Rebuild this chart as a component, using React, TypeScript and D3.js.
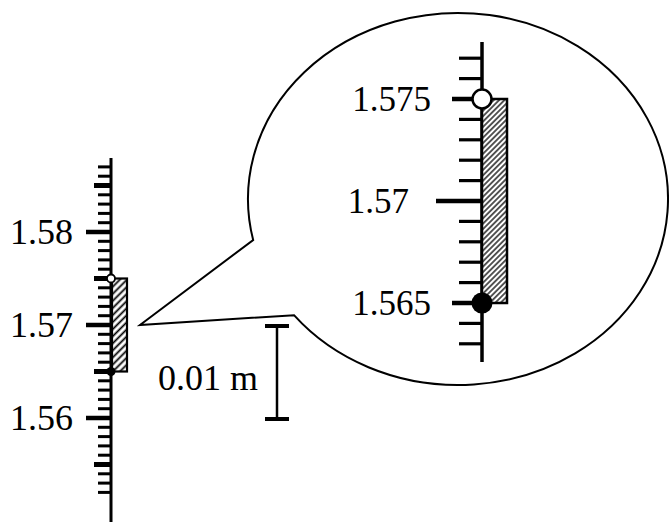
import * as d3 from "d3";

// measured interval: lower end included (filled dot), upper end excluded (open dot)
const intervalLow = 1.565;
const intervalHigh = 1.575;

// main ruler
const mainLabels = [1.56, 1.57, 1.58];
const mainTickRange = [1552, 1587]; // in mm, every 1 mm
// magnified ruler
const zoomLabels = [1.565, 1.57, 1.575];
const zoomTickRange = [1563, 1577];

const scaleBarValue = 0.01;
const scaleBarLabel = "0.01 m";

const W = 669;
const H = 522;
const FONT = "'Liberation Serif', 'Times New Roman', serif";

function Hatch({ id, spacing, sw }: { id: string; spacing: number; sw: number }) {
  return (
    <pattern
      id={id}
      patternUnits="userSpaceOnUse"
      width={spacing}
      height={spacing}
      patternTransform="rotate(45)"
    >
      <rect width={spacing} height={spacing} fill="#fff" />
      <line
        x1={spacing / 2}
        y1={-1}
        x2={spacing / 2}
        y2={spacing + 1}
        stroke="#000"
        strokeWidth={sw}
      />
    </pattern>
  );
}

export default function App() {
  // scales
  const yMain = d3.scaleLinear().domain([1.56, 1.58]).range([418, 232]);
  const yZoom = d3.scaleLinear().domain([1.565, 1.575]).range([303, 99]);
  const xMain = 111;
  const xZoom = 482;

  const mainTicks = d3.range(mainTickRange[0], mainTickRange[1] + 1);
  const zoomTicks = d3.range(zoomTickRange[0], zoomTickRange[1] + 1);

  // speech bubble geometry (ellipse + tail)
  const cx = 458, cy = 199, rx = 210, ry = 186;
  const ayA = 240;
  const axA = cx - rx * Math.sqrt(1 - ((ayA - cy) / ry) ** 2);
  const bxB = 294;
  const byB = cy + ry * Math.sqrt(1 - ((bxB - cx) / rx) ** 2);
  const tip = [140, 325];
  const bubble = `M${axA},${ayA} A${rx},${ry} 0 1 1 ${bxB},${byB} L${tip[0]},${tip[1]} Z`;

  // scale bar
  const barLen = yMain(1.56) - yMain(1.56 + scaleBarValue);
  const barX = 277;
  const barTop = 326;

  return (
    <svg
      width={W}
      height={H}
      style={{ position: "absolute", left: 0, top: 0, background: "#fff" }}
      fontFamily={FONT}
    >
      <defs>
        <Hatch id="hatchMain" spacing={5} sw={1.8} />
        <Hatch id="hatchZoom" spacing={3.8} sw={1.3} />
      </defs>

      {/* main ruler */}
      <line x1={xMain} x2={xMain} y1={158} y2={H} stroke="#000" strokeWidth={3} />
      {mainTicks.map((k) => {
        const y = yMain(k / 1000);
        const major = k % 10 === 0;
        const mid = k % 5 === 0;
        const len = major ? 25 : mid ? 17 : 13;
        const sw = major ? 4.5 : mid ? 5 : 3;
        return (
          <line key={k} x1={xMain - len} x2={xMain} y1={y} y2={y} stroke="#000" strokeWidth={sw} />
        );
      })}
      {mainLabels.map((v) => (
        <text key={v} x={73} y={yMain(v) + 12} textAnchor="end" fontSize={36}>
          {d3.format(".2f")(v)}
        </text>
      ))}
      <rect
        x={xMain + 1}
        y={yMain(intervalHigh)}
        width={15}
        height={yMain(intervalLow) - yMain(intervalHigh)}
        fill="url(#hatchMain)"
        stroke="#000"
        strokeWidth={2.2}
      />
      <circle cx={xMain} cy={yMain(intervalHigh)} r={4} fill="#fff" stroke="#000" strokeWidth={1.8} />
      <circle cx={xMain} cy={yMain(intervalLow)} r={4.5} fill="#000" />

      {/* speech bubble */}
      <path d={bubble} fill="#fff" stroke="#000" strokeWidth={2} strokeLinejoin="miter" />

      {/* magnified ruler */}
      <line x1={xZoom} x2={xZoom} y1={42} y2={362} stroke="#000" strokeWidth={3.5} />
      {zoomTicks.map((k) => {
        const y = yZoom(k / 1000);
        const major = k % 10 === 0;
        const mid = k % 5 === 0;
        const len = major ? 46 : mid ? 30 : 23;
        const sw = major ? 4.5 : mid ? 4.5 : 3.2;
        return (
          <line key={k} x1={xZoom - len} x2={xZoom} y1={y} y2={y} stroke="#000" strokeWidth={sw} />
        );
      })}
      {zoomLabels.map((v) => {
        const major = Math.round(v * 1000) % 10 === 0;
        return (
          <text
            key={v}
            x={major ? 409 : 431}
            y={yZoom(v) + 12}
            textAnchor="end"
            fontSize={35}
          >
            {major ? d3.format(".2f")(v) : d3.format(".3f")(v)}
          </text>
        );
      })}
      <rect
        x={xZoom}
        y={yZoom(intervalHigh)}
        width={25}
        height={yZoom(intervalLow) - yZoom(intervalHigh)}
        fill="url(#hatchZoom)"
        stroke="#000"
        strokeWidth={2.5}
      />
      <circle cx={xZoom} cy={yZoom(intervalHigh)} r={9.5} fill="#fff" stroke="#000" strokeWidth={2.5} />
      <circle cx={xZoom} cy={yZoom(intervalLow)} r={10.5} fill="#000" />

      {/* scale bar */}
      <line x1={barX} x2={barX} y1={barTop} y2={barTop + barLen} stroke="#000" strokeWidth={2.5} />
      <line x1={barX - 12} x2={barX + 12} y1={barTop} y2={barTop} stroke="#000" strokeWidth={4} />
      <line x1={barX - 12} x2={barX + 12} y1={barTop + barLen} y2={barTop + barLen} stroke="#000" strokeWidth={4} />
      <text x={258} y={390} textAnchor="end" fontSize={36}>
        {scaleBarLabel}
      </text>
    </svg>
  );
}
